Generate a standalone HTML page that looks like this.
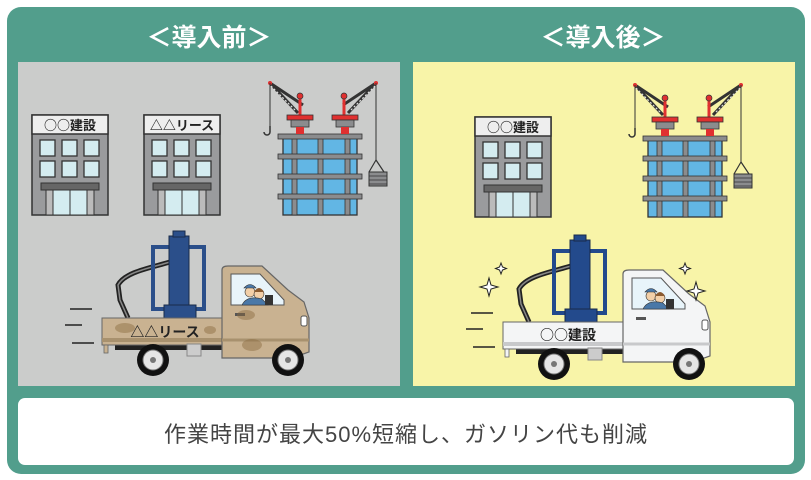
<!DOCTYPE html>
<html><head><meta charset="utf-8"><style>
html,body{margin:0;padding:0;background:#fff;width:811px;height:480px;overflow:hidden}
svg{display:block}
text{font-family:"Liberation Sans","Noto Sans CJK JP",sans-serif}
text.j{font-family:"Noto Sans CJK JP",sans-serif}
</style></head><body>
<svg width="811" height="480" viewBox="0 0 811 480" xmlns="http://www.w3.org/2000/svg">
<defs>
<g id="bld">
  <rect x="32" y="115" width="76" height="100" fill="#9a9b9d" stroke="#333" stroke-width="1.5"/>
  <rect x="32" y="115" width="76" height="19" fill="#eeeeee" stroke="#333" stroke-width="1.5"/>
  <g fill="#d4ecf0" stroke="#333" stroke-width="1.3">
    <rect x="40" y="140" width="15" height="16"/><rect x="62" y="140" width="15" height="16"/><rect x="84" y="140" width="15" height="16"/>
    <rect x="40" y="161" width="15" height="16"/><rect x="62" y="161" width="15" height="16"/><rect x="84" y="161" width="15" height="16"/>
  </g>
  <rect x="41" y="183" width="58" height="7" fill="#666" stroke="#333"/>
  <rect x="46" y="190" width="48" height="25" fill="#bbb" stroke="#333"/>
  <rect x="53" y="190" width="34" height="25" fill="#d4ecf0" stroke="#333"/>
  <line x1="70" y1="190" x2="70" y2="215" stroke="#333"/>
</g>
<g id="tower">
  <rect x="283" y="137" width="74" height="78" fill="#62b6e4" stroke="#333" stroke-width="1.3"/>
  <g fill="#8b8c8e" stroke="#333" stroke-width="0.8">
    <rect x="292" y="137" width="5" height="78"/><rect x="318" y="137" width="5" height="78"/><rect x="345" y="137" width="5" height="78"/>
    <rect x="278" y="134" width="84" height="5"/><rect x="278" y="154" width="84" height="5"/><rect x="278" y="174" width="84" height="5"/><rect x="278" y="194" width="84" height="5"/>
  </g>
  <path d="M270 83 L298 113 M270 83 L303 105" stroke="#333" stroke-width="3" fill="none"/>
  <path d="M271 86 L296 111" stroke="#ddd" stroke-width="1.2" stroke-dasharray="2 2"/>
  <line x1="300" y1="97" x2="300" y2="116" stroke="#e03030" stroke-width="3"/>
  <circle cx="300" cy="96" r="3" fill="#e03030" stroke="#333" stroke-width=".7"/>
  <circle cx="270" cy="83" r="2" fill="#e03030"/>
  <line x1="270" y1="83" x2="270" y2="127" stroke="#333" stroke-width="1"/>
  <path d="M270 126 v6 a3 3 0 0 1 -6 0" stroke="#333" stroke-width="1.5" fill="none"/>
  <rect x="287" y="115" width="26" height="5" fill="#e03030" stroke="#333" stroke-width=".8"/>
  <rect x="291" y="120" width="18" height="7" fill="#8b8c8e" stroke="#333" stroke-width=".8"/>
  <rect x="296" y="127" width="8" height="7" fill="#e03030"/>
  <path d="M376 83 L348 113 M376 83 L343 105" stroke="#333" stroke-width="3" fill="none"/>
  <path d="M375 86 L350 111" stroke="#ddd" stroke-width="1.2" stroke-dasharray="2 2"/>
  <line x1="344" y1="97" x2="344" y2="116" stroke="#e03030" stroke-width="3"/>
  <circle cx="344" cy="96" r="3" fill="#e03030" stroke="#333" stroke-width=".7"/>
  <circle cx="376" cy="83" r="2" fill="#e03030"/>
  <line x1="376" y1="83" x2="376" y2="160" stroke="#333" stroke-width="1"/>
  <rect x="332" y="115" width="26" height="5" fill="#e03030" stroke="#333" stroke-width=".8"/>
  <rect x="336" y="120" width="18" height="7" fill="#8b8c8e" stroke="#333" stroke-width=".8"/>
  <rect x="341" y="127" width="8" height="7" fill="#e03030"/>
  <path d="M376 160 L369 172 M376 160 L384 172" stroke="#333" stroke-width="1.2"/>
  <rect x="369" y="172" width="18" height="14" fill="#8b8c8e" stroke="#333"/>
  <path d="M369 176h18M369 180h18M369 184h18" stroke="#333" stroke-width=".8"/>
</g>
<g id="truck">
  <path d="M70 309h22M65 325h17M72 343h22" stroke="#222" stroke-width="1.6"/>
  <rect x="115" y="344" width="140" height="6" fill="#222"/>
  <path d="M170 262 C150 268 125 272 118 285 L120 300 L128 318" stroke="#222" stroke-width="5" fill="none"/>
  <path d="M170 262 C150 268 125 272 118 285 L120 300 L128 318" stroke="#888" stroke-width="1.5" fill="none"/>
  <g fill="none" stroke="var(--mach)" stroke-width="4">
    <rect x="153" y="247" width="51" height="62"/>
  </g>
  <rect x="169" y="236" width="20" height="84" fill="var(--mach)" stroke="#1a2b4a" stroke-width="1"/>
  <rect x="173" y="231" width="12" height="6" fill="var(--mach)" stroke="#1a2b4a"/>
  <rect x="164" y="305" width="32" height="15" fill="var(--mach)" stroke="#1a2b4a"/>
  <rect x="102" y="318" width="124" height="27" fill="var(--body)" stroke="#666" stroke-width="1"/>
  <rect x="102" y="338" width="124" height="4" fill="var(--shade)"/>
  <rect x="104" y="345" width="4" height="8" fill="var(--body)" stroke="#666" stroke-width=".8"/>
  <rect x="187" y="344" width="14" height="12" fill="#ccc" stroke="#888"/>
  <path d="M222 358 L222 270 Q222 266 228 266 L262 266 L288 290 L304 302 L309 318 L309 352 L292 358 Z" fill="var(--body)" stroke="#666" stroke-width="1.2"/>
  <path d="M231 274 L260 274 L284 300 L284 305 L231 305 Z" fill="#e8f4fa" stroke="#555" stroke-width="1"/>
  <rect x="301" y="316" width="6" height="10" rx="2" fill="#fff" stroke="#555"/>
  <rect x="235" y="313" width="10" height="3" fill="#555"/>
  <path d="M222 340 H309" stroke="var(--shade)" stroke-width="3"/>
  <circle cx="250" cy="292" r="5" fill="#f2cfa8" stroke="#333" stroke-width=".6"/>
  <path d="M244 288 q6 -7 12 0 z" fill="#4a78a8" stroke="#333" stroke-width=".6"/>
  <circle cx="259" cy="294" r="5" fill="#f2cfa8" stroke="#333" stroke-width=".6"/>
  <path d="M254 292 q5 -8 10 0 z" fill="#8a5a30"/>
  <path d="M242 305 q5 -10 20 -6 l6 6 z" fill="#4a78a8" stroke="#333" stroke-width=".6"/>
  <rect x="265" y="295" width="8" height="10" fill="#333"/>
  <g>
    <circle cx="153" cy="360" r="16" fill="#111"/><circle cx="153" cy="360" r="10" fill="#e6e6e6" stroke="#777"/><circle cx="153" cy="360" r="3" fill="#777"/>
    <circle cx="288" cy="360" r="16" fill="#111"/><circle cx="288" cy="360" r="10" fill="#e6e6e6" stroke="#777"/><circle cx="288" cy="360" r="3" fill="#777"/>
  </g>
</g>
</defs>

<rect x="7" y="7" width="798" height="467" rx="14" fill="#529e8c"/>
<text class="j" x="209" y="46" font-size="25" font-weight="bold" fill="#fff" text-anchor="middle">＜導入前＞</text>
<text class="j" x="603" y="46" font-size="25" font-weight="bold" fill="#fff" text-anchor="middle">＜導入後＞</text>

<rect x="18" y="62" width="382" height="324" fill="#cbcccb"/>
<rect x="413" y="62" width="382" height="324" fill="#f8f4a8"/>

<rect x="18" y="398" width="776" height="67" rx="7" fill="#fff"/>
<text x="406" y="442" font-size="22" letter-spacing="1" fill="#444" text-anchor="middle">作業時間が最大50%短縮し、ガソリン代も削減</text>

<use href="#bld"/>
<text class="j" x="70" y="130" font-size="13" font-weight="bold" fill="#222" text-anchor="middle">○○建設</text>
<use href="#bld" transform="translate(112,0)"/>
<text class="j" x="182" y="130" font-size="13" font-weight="bold" fill="#222" text-anchor="middle">△△リース</text>
<use href="#tower"/>
<g style="--body:#c9b291;--shade:#a8916e;--mach:#2b4f8a">
  <use href="#truck"/>
</g>
<g fill="#8a6a3e" opacity=".45">
  <ellipse cx="125" cy="328" rx="10" ry="5"/><ellipse cx="246" cy="315" rx="9" ry="5"/><ellipse cx="252" cy="345" rx="10" ry="6"/><ellipse cx="210" cy="330" rx="6" ry="4"/>
</g>
<text class="j" x="165" y="337" font-size="14" font-weight="bold" fill="#222" text-anchor="middle">△△リース</text>

<use href="#bld" transform="translate(443,2)"/>
<text class="j" x="513" y="132" font-size="13" font-weight="bold" fill="#222" text-anchor="middle">○○建設</text>
<use href="#tower" transform="translate(365,2)"/>
<g style="--body:#f4f5f6;--shade:#c8c9cb;--mach:#234a8c" transform="translate(401,4)">
  <use href="#truck"/>
</g>
<text class="j" x="568" y="340" font-size="14" font-weight="bold" fill="#222" text-anchor="middle">○○建設</text>
<g fill="#fff" stroke="#222" stroke-width="1">
  <path d="M489 278 l2 7 l7 2 l-7 2 l-2 7 l-2 -7 l-7 -2 l7 -2 z"/>
  <path d="M501 263 l1.5 4 l4 1.5 l-4 1.5 l-1.5 4 l-1.5 -4 l-4 -1.5 l4 -1.5 z"/>
  <path d="M696 282 l2 7 l7 2 l-7 2 l-2 7 l-2 -7 l-7 -2 l7 -2 z"/>
  <path d="M685 263 l1.5 4 l4 1.5 l-4 1.5 l-1.5 4 l-1.5 -4 l-4 -1.5 l4 -1.5 z"/>
</g>
</svg>
</body></html>
